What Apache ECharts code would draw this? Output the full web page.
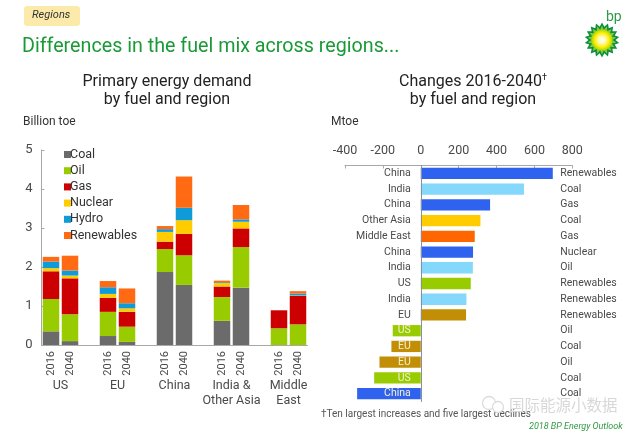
<!DOCTYPE html>
<html>
<head>
<meta charset="utf-8">
<title>Differences in the fuel mix across regions</title>
<script src="https://cdn.jsdelivr.net/npm/echarts@6/dist/echarts.min.js"></script>
<style>
html, body { margin: 0; padding: 0; background: #fff; }
#main { width: 640px; height: 434px; }
</style>
</head>
<body>
<div id="main"></div>
<script>
// left chart, blank slots keep the regions apart
var yearLabels = ['2016', '2040', '', '2016', '2040', '', '2016', '2040', '', '2016', '2040', '', '2016', '2040'];
var regionLabels = ['', 'US', '', '', 'EU', '', '', 'China', '', '', 'India &\nOther Asia', '', '', 'Middle\nEast', ''];
var coal       = [0.35, 0.10, null, 0.23, 0.08, null, 1.87, 1.54, null, 0.62, 1.47, null, 0,    0];
var oil        = [0.83, 0.69, null, 0.62, 0.39, null, 0.59, 0.76, null, 0.61, 1.04, null, 0.43, 0.53];
var gas        = [0.71, 0.92, null, 0.36, 0.38, null, 0.19, 0.55, null, 0.27, 0.48, null, 0.46, 0.73];
var nuclear    = [0.08, 0.07, null, 0.10, 0.09, null, 0.25, 0.35, null, 0.09, 0.17, null, 0,    0.01];
var hydro      = [0.17, 0.13, null, 0.17, 0.13, null, 0.07, 0.32, null, 0.02, 0.06, null, 0,    0.05];
var renewables = [0.12, 0.38, null, 0.16, 0.38, null, 0.08, 0.80, null, 0.04, 0.37, null, 0,    0.06];

// right chart
var changeRegions = ['China', 'India', 'China', 'Other Asia', 'Middle East', 'China', 'India', 'US', 'India', 'EU', 'US', 'EU', 'EU', 'US', 'China'];
var changeFuels = ['Renewables', 'Coal', 'Gas', 'Coal', 'Gas', 'Nuclear', 'Oil', 'Renewables', 'Renewables', 'Renewables', 'Oil', 'Coal', 'Oil', 'Coal', 'Coal'];
var changeValues = [697, 545, 366, 315, 285, 276, 275, 264, 241, 239, -148, -155, -218, -246, -336];

var fuelColors = { Coal: '#6b6b6b', Oil: '#99cc00', Gas: '#cc0000', Nuclear: '#ffcc00', Hydro: '#0f9bd7', Renewables: '#ff6a13' };
var regionColors = { 'China': '#2f62ee', 'India': '#84d8fb', 'Other Asia': '#ffcc00', 'Middle East': '#ff6600', 'US': '#99cc00', 'EU': '#c28e05' };

var textColor = '#4a4a4a';
var axisColor = '#a8a8a8';
var fontName = 'Roboto';

function fuelSeries(name, values) {
    return {
        name: name,
        type: 'bar',
        stack: 'demand',
        xAxisIndex: 0,
        yAxisIndex: 0,
        barWidth: 16.5,
        itemStyle: { color: fuelColors[name] },
        data: values
    };
}

// bp helios, only a decoration so it is built from a few stars
function starPoints(cx, cy, outer, inner, count) {
    var pts = [];
    for (var i = 0; i < count * 2; i++) {
        var r = i % 2 ? inner : outer;
        var a = Math.PI * i / count;
        pts.push([cx + r * Math.sin(a), cy - r * Math.cos(a)]);
    }
    return pts;
}

var chart = echarts.init(document.getElementById('main'));

chart.setOption({
    animation: false,
    backgroundColor: '#fff',
    textStyle: { fontFamily: fontName },
    title: [
        {
            text: 'Primary energy demand\nby fuel and region',
            left: 162, top: 68, textAlign: 'center',
            textStyle: { fontFamily: fontName, fontSize: 16, fontWeight: 'normal', color: '#222', lineHeight: 18 }
        },
        {
            text: 'Changes 2016-2040{d|\u2020}\nby fuel and region',
            left: 468, top: 68, textAlign: 'center',
            textStyle: {
                fontFamily: fontName, fontSize: 16, fontWeight: 'normal', color: '#222', lineHeight: 18,
                rich: { d: { fontFamily: fontName, fontSize: 9, color: '#222', verticalAlign: 'top', lineHeight: 18 } }
            }
        }
    ],
    legend: {
        orient: 'vertical',
        left: 59, top: 143,
        icon: 'rect',
        itemWidth: 7, itemHeight: 7, itemGap: 3.2,
        textStyle: { fontFamily: fontName, fontSize: 12.5, color: '#333', padding: [0, 0, 0, -6], height: 13, lineHeight: 13 },
        data: ['Coal', 'Oil', 'Gas', 'Nuclear', 'Hydro', 'Renewables']
    },
    grid: [
        { left: 41.5, top: 150, width: 266, height: 195 },
        { left: 345, top: 165.5, width: 227.3, height: 236 }
    ],
    xAxis: [
        {
            type: 'category', gridIndex: 0, data: yearLabels,
            axisLine: { lineStyle: { color: axisColor } },
            axisTick: { show: false },
            axisLabel: { interval: 0, rotate: 90, margin: 6, fontSize: 11, color: textColor }
        },
        {
            type: 'category', gridIndex: 0, data: regionLabels, boundaryGap: false,
            position: 'bottom', offset: 33,
            axisLine: { show: false },
            axisTick: { show: false },
            axisLabel: { interval: 0, margin: 0, fontSize: 12.5, lineHeight: 15, color: textColor, showMinLabel: true, showMaxLabel: true }
        },
        {
            type: 'value', gridIndex: 1, position: 'top',
            min: -400, max: 800, interval: 200,
            axisLine: { show: true, onZero: false, lineStyle: { color: axisColor } },
            axisTick: { show: true, inside: true, length: 3, lineStyle: { color: axisColor } },
            splitLine: { show: false },
            axisLabel: { margin: 8, fontSize: 12.5, color: textColor }
        }
    ],
    yAxis: [
        {
            type: 'value', gridIndex: 0,
            min: 0, max: 5, interval: 1,
            axisLine: { show: true, lineStyle: { color: axisColor } },
            axisTick: { show: true, inside: true, length: 3, lineStyle: { color: axisColor } },
            splitLine: { show: false },
            axisLabel: { margin: 9, fontSize: 13, color: textColor }
        },
        {
            // offset puts the axis on the zero line, labels follow it
            type: 'category', gridIndex: 1, inverse: true, data: changeRegions, z: 5,
            position: 'left', offset: -75.8,
            axisLine: { show: true, onZero: false, lineStyle: { color: '#8a9099' } },
            axisTick: { show: false },
            axisLabel: {
                interval: 0, margin: 10, fontSize: 10.5,
                color: function (value, index) {
                    return changeValues[index] < 0 ? '#f4f0d0' : textColor;
                }
            }
        },
        {
            type: 'category', gridIndex: 1, inverse: true, data: changeFuels, position: 'right',
            axisLine: { show: false, onZero: false },
            axisTick: { show: false },
            axisLabel: { interval: 0, margin: -12, align: 'left', fontSize: 10.5, color: textColor }
        }
    ],
    series: [
        fuelSeries('Coal', coal),
        fuelSeries('Oil', oil),
        fuelSeries('Gas', gas),
        fuelSeries('Nuclear', nuclear),
        fuelSeries('Hydro', hydro),
        fuelSeries('Renewables', renewables),
        {
            name: 'Change',
            type: 'bar',
            xAxisIndex: 2,
            yAxisIndex: 1,
            barWidth: 11.3,
            data: changeValues.map(function (v, i) {
                return { value: v, itemStyle: { color: regionColors[changeRegions[i]] } };
            })
        }
    ],
    graphic: [
        { type: 'rect', shape: { x: 24, y: 6, width: 56, height: 20, r: 3 }, style: { fill: '#fbeaaa' } },
        { type: 'text', x: 32, y: 10, style: { text: 'Regions', fontFamily: fontName, fontSize: 11, fontStyle: 'italic', fill: '#333' } },
        { type: 'text', x: 22, y: 37, style: { text: 'Differences in the fuel mix across regions...', fontFamily: fontName, fontSize: 19.7, fill: '#1a9a36' } },
        { type: 'text', x: 23, y: 116, style: { text: 'Billion toe', fontFamily: fontName, fontSize: 12, fill: '#333' } },
        { type: 'text', x: 331, y: 116, style: { text: 'Mtoe', fontFamily: fontName, fontSize: 12, fill: '#333' } },
        { type: 'text', x: 321, y: 409, style: { text: '\u2020Ten largest increases and five largest declines', fontFamily: fontName, fontSize: 10, fill: '#555' } },
        { type: 'text', x: 529, y: 422, style: { text: '2018 BP Energy Outlook', fontFamily: fontName, fontSize: 9, fontStyle: 'italic', fill: '#2f9a45' } },
        // watermark
        { type: 'circle', shape: { cx: 489, cy: 403, r: 6.5 }, style: { fill: 'none', stroke: '#dcdcdc', lineWidth: 1.3 } },
        { type: 'circle', shape: { cx: 498, cy: 407, r: 5.5 }, style: { fill: '#fff', stroke: '#dcdcdc', lineWidth: 1.3 } },
        { type: 'text', x: 509, y: 397, style: { text: '国际能源小数据', fontFamily: 'Noto Sans CJK SC', fontSize: 15.5, fill: '#d8d8d8' } },
        { type: 'text', x: 606, y: 10, style: { text: 'bp', fontFamily: fontName, fontSize: 14, fill: '#2f9a45' } },
        { type: 'polygon', shape: { points: starPoints(602, 40, 17.5, 13.5, 18) }, style: { fill: '#0a8f3c' } },
        { type: 'polygon', shape: { points: starPoints(602, 40, 14.5, 10.5, 18) }, style: { fill: '#8cc63f' } },
        {
            type: 'circle', shape: { cx: 602, cy: 40, r: 10.5 },
            style: {
                fill: new echarts.graphic.RadialGradient(0.5, 0.5, 0.5, [
                    { offset: 0, color: '#ffffff' },
                    { offset: 0.35, color: '#fffbb0' },
                    { offset: 0.7, color: '#ffee00' },
                    { offset: 1, color: '#a6d608' }
                ])
            }
        }
    ]
});
</script>
</body>
</html>
